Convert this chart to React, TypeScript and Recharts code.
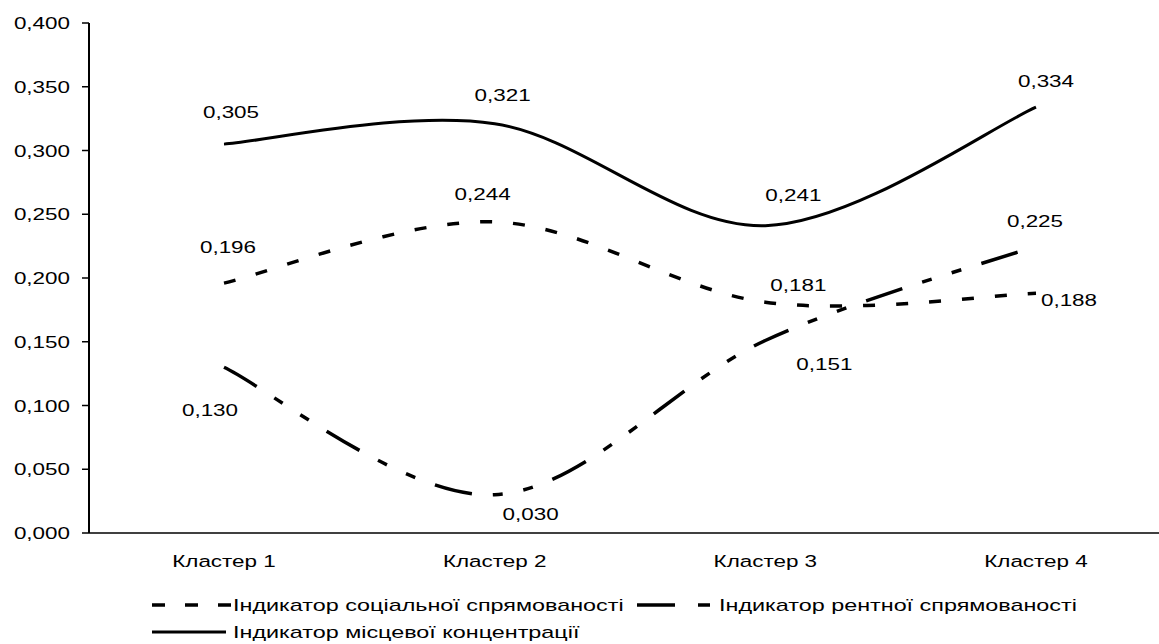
import React from 'react';
import { LineChart, Line, XAxis, YAxis, LabelList } from 'recharts';

const categories = ['Кластер 1', 'Кластер 2', 'Кластер 3', 'Кластер 4'];
const socialValues = [0.196, 0.244, 0.181, 0.188];
const rentValues = [0.13, 0.03, 0.151, 0.225];
const localValues = [0.305, 0.321, 0.241, 0.334];
const yTicks = [0, 0.05, 0.1, 0.15, 0.2, 0.25, 0.3, 0.35, 0.4];
const seriesNames = [
  'Індикатор соціальної спрямованості',
  'Індикатор рентної спрямованості',
  'Індикатор місцевої концентрації',
];

// label offsets (style only)
const socialLabelOffset = [[4, -30], [-12, -22], [33, -11], [33, 13]];
const rentLabelOffset = [[-14, 49], [36, 25], [59, 30], [-1, -19]];
const localLabelOffset = [[7, -26], [8, -23], [28, -25], [10, -20]];

const data = categories.map((c, i) => ({
  name: c,
  social: socialValues[i],
  rent: rentValues[i],
  local: localValues[i],
}));

const FONT = '"Liberation Sans", Arial, sans-serif';
const SX = 1.32;
const LSX = 1.46;

const fmt = (v: number) => v.toFixed(3).replace('.', ',');

// Excel-like smooth curve (Catmull-Rom style bezier)
function excelSmooth(context: any) {
  let pts: number[][] = [];
  return {
    areaStart() {},
    areaEnd() {},
    lineStart() {
      pts = [];
    },
    lineEnd() {
      const n = pts.length;
      if (!n) return;
      context.moveTo(pts[0][0], pts[0][1]);
      for (let i = 0; i < n - 1; i++) {
        const p0 = pts[Math.max(i - 1, 0)];
        const p1 = pts[i];
        const p2 = pts[i + 1];
        const p3 = pts[Math.min(i + 2, n - 1)];
        context.bezierCurveTo(
          p1[0] + (p2[0] - p0[0]) / 6,
          p1[1] + (p2[1] - p0[1]) / 6,
          p2[0] - (p3[0] - p1[0]) / 6,
          p2[1] - (p3[1] - p1[1]) / 6,
          p2[0],
          p2[1]
        );
      }
    },
    point(x: number, y: number) {
      pts.push([+x, +y]);
    },
  };
}

const STxt = ({ x, y, anchor, size, children }: any) => (
  <text
    transform={`translate(${x},${y}) scale(${SX},1)`}
    textAnchor={anchor}
    fontSize={size}
    fontFamily={FONT}
    fill="#000"
  >
    {children}
  </text>
);

const YTick = ({ x, y, payload }: any) => (
  <STxt x={x} y={y + 6} anchor="end" size={17}>
    {fmt(payload.value)}
  </STxt>
);

const XTick = ({ x, y, payload }: any) => (
  <STxt x={x} y={y + 26} anchor="middle" size={17}>
    {payload.value}
  </STxt>
);

const makeLabel = (offsets: number[][]) => (props: any) => {
  const { x, y, index, value } = props;
  const o = offsets[index] || [0, 0];
  return (
    <STxt x={x + o[0]} y={y + o[1]} anchor="middle" size={17}>
      {fmt(value)}
    </STxt>
  );
};

const Legend = () => (
  <svg
    width={1159}
    height={644}
    style={{ position: 'absolute', left: 0, top: 0, pointerEvents: 'none' }}
  >
    <line x1={152} y1={605} x2={232} y2={605} stroke="#000" strokeWidth={3.5} strokeDasharray="13 20" />
    <text transform={`translate(233,611) scale(${LSX},1)`} fontSize={16} fontFamily={FONT}>
      {seriesNames[0]}
    </text>
    <line x1={637} y1={605} x2={710} y2={605} stroke="#000" strokeWidth={3.5} strokeDasharray="38 23 12 23" />
    <text transform={`translate(719,611) scale(${LSX},1)`} fontSize={16} fontFamily={FONT}>
      {seriesNames[1]}
    </text>
    <line x1={152} y1={632} x2={226} y2={632} stroke="#000" strokeWidth={3} />
    <text transform={`translate(233,638) scale(${LSX},1)`} fontSize={16} fontFamily={FONT}>
      {seriesNames[2]}
    </text>
  </svg>
);

export default function App() {
  return (
    <div
      style={{
        position: 'absolute',
        left: 0,
        top: 0,
        width: 1159,
        height: 644,
        overflow: 'hidden',
        background: '#fff',
      }}
    >
      <LineChart
        width={1171}
        height={644}
        data={data}
        margin={{ top: 23, right: 0, bottom: 81, left: 0 }}
      >
        <XAxis
          dataKey="name"
          height={30}
          tickLine={false}
          padding={{ left: 135, right: 135 }}
          axisLine={{ stroke: '#000', strokeWidth: 1.5 }}
          tick={<XTick />}
          interval={0}
        />
        <YAxis
          width={89}
          domain={[0, 0.4]}
          ticks={yTicks}
          interval={0}
          tickSize={7}
          tickMargin={12}
          tickLine={{ stroke: '#000', strokeWidth: 1.5 }}
          axisLine={{ stroke: '#000', strokeWidth: 2 }}
          tick={<YTick />}
        />
        <Line
          dataKey="local"
          type={excelSmooth as any}
          stroke="#000"
          strokeWidth={3}
          dot={false}
          isAnimationActive={false}
        >
          <LabelList dataKey="local" content={makeLabel(localLabelOffset)} />
        </Line>
        <Line
          dataKey="social"
          type={excelSmooth as any}
          stroke="#000"
          strokeWidth={3.5}
          strokeDasharray="12 21"
          dot={false}
          isAnimationActive={false}
        >
          <LabelList dataKey="social" content={makeLabel(socialLabelOffset)} />
        </Line>
        <Line
          dataKey="rent"
          type={excelSmooth as any}
          stroke="#000"
          strokeWidth={3.5}
          strokeDasharray="38 21 10 21 10 21"
          dot={false}
          isAnimationActive={false}
        >
          <LabelList dataKey="rent" content={makeLabel(rentLabelOffset)} />
        </Line>
      </LineChart>
      <Legend />
    </div>
  );
}
